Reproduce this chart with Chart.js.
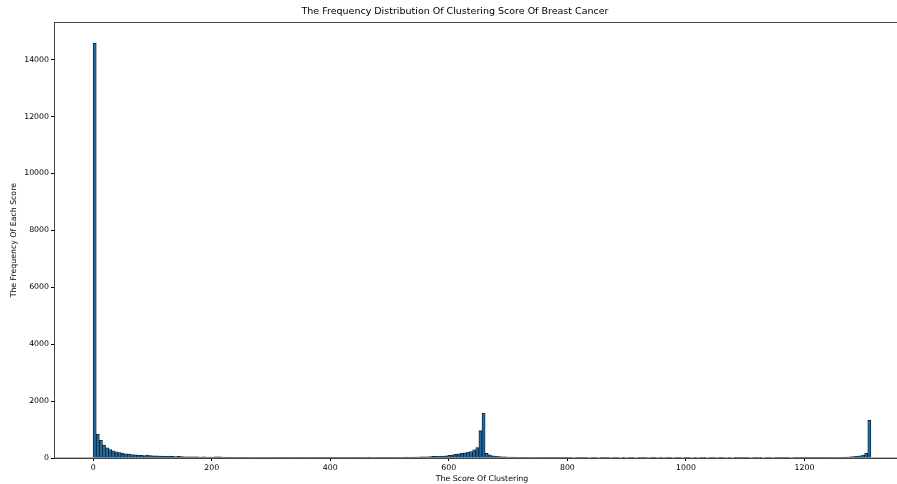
<!DOCTYPE html>
<html>
<head>
<meta charset="utf-8">
<title>Clustering Score Histogram</title>
<script src="https://cdn.jsdelivr.net/npm/chart.js@4.4.1/dist/chart.umd.min.js"></script>
<style>
  html, body { margin: 0; padding: 0; background: #fff; overflow: hidden; }
  #wrap { position: relative; width: 914px; height: 484px; }
</style>
</head>
<body>
<div id="wrap"><canvas id="myChart"></canvas></div>
<script>
// histogram: 250 bins from score 0 to ~1312
const binStart = 0;
const binWidth = 5.248;
const counts = [
    14580, 830, 620, 450, 360, 300, 255, 220, 190, 165,
    150, 135, 120, 110, 100, 95, 85, 100, 85, 80,
    75, 70, 65, 60, 65, 55, 50, 55, 50, 45,
    45, 40, 45, 40, 35, 40, 35, 30, 35, 40,
    45, 30, 25, 30, 25, 20, 25, 20, 25, 20,
    20, 15, 20, 15, 20, 15, 15, 20, 15, 15,
    10, 15, 10, 15, 10, 15, 10, 10, 15, 10,
    10, 15, 10, 10, 15, 10, 15, 10, 15, 10,
    15, 10, 15, 10, 15, 15, 15, 25, 30, 20,
    15, 10, 5, 10, 20, 25, 20, 25, 20, 25,
    30, 25, 30, 30, 35, 40, 45, 40, 50, 55,
    60, 65, 70, 80, 95, 110, 130, 150, 165, 180,
    210, 230, 290, 370, 960, 1570, 160, 110, 75, 60,
    50, 45, 40, 35, 30, 30, 25, 25, 20, 20,
    20, 15, 20, 15, 10, 15, 10, 10, 15, 10,
    10, 5, 10, 5, 0, 5, 5, 10, 5, 0,
    5, 5, 0, 5, 10, 5, 0, 5, 5, 0,
    5, 0, 5, 5, 0, 5, 10, 5, 0, 5,
    5, 0, 5, 0, 5, 5, 0, 5, 5, 0,
    5, 5, 0, 5, 0, 5, 5, 0, 5, 5,
    0, 5, 5, 0, 5, 0, 5, 5, 10, 5,
    5, 0, 5, 10, 5, 0, 5, 5, 0, 5,
    5, 10, 5, 5, 0, 5, 10, 5, 5, 10,
    5, 10, 10, 5, 10, 15, 15, 20, 20, 20,
    25, 30, 35, 40, 50, 60, 80, 105, 165, 1330
];
const xTicks = [0, 200, 400, 600, 800, 1000, 1200];
const yTicks = [0, 2000, 4000, 6000, 8000, 10000, 12000, 14000];

const points = counts.map((c, i) => ({ x: binStart + (i + 0.5) * binWidth, y: c }));

const frame = {
    id: 'frame',
    afterDraw(chart) {
        const a = chart.chartArea;
        const ctx = chart.ctx;
        ctx.save();
        ctx.strokeStyle = '#444';
        ctx.lineWidth = 1;
        ctx.strokeRect(Math.round(a.left) + 0.5, Math.round(a.top) + 0.5, a.right - a.left, a.bottom - a.top);
        ctx.restore();
    }
};

const tickFont = { family: 'DejaVu Sans', size: 7.8 };

new Chart(document.getElementById('myChart'), {
    type: 'bar',
    data: {
        datasets: [{
            data: points,
            backgroundColor: '#1f6aa0',
            borderColor: '#0b1a26',
            borderWidth: 0.8,
            barPercentage: 1.0,
            categoryPercentage: 1.0
        }]
    },
    options: {
        responsive: true,
        maintainAspectRatio: false,
        animation: false,
        layout: { padding: { left: 0, right: 4, top: 0, bottom: 0 } },
        plugins: {
            legend: { display: false },
            tooltip: { enabled: false },
            title: {
                display: true,
                text: 'The Frequency Distribution Of Clustering Score Of Breast Cancer',
                color: '#000',
                font: { family: 'DejaVu Sans', size: 9.5, weight: 'normal' },
                padding: { top: 6, bottom: 5 }
            }
        },
        scales: {
            x: {
                type: 'linear',
                min: -66,
                max: 1378,
                offset: false,
                afterFit: (scale) => { scale.height = 26; },
                afterBuildTicks: (scale) => { scale.ticks = xTicks.map(v => ({ value: v })); },
                ticks: {
                    color: '#000', font: tickFont, padding: 2, maxRotation: 0, autoSkip: false,
                    callback: (v) => String(v)
                },
                grid: { offset: false, drawOnChartArea: false, drawTicks: true, tickLength: 3, color: '#000' },
                border: { display: true, color: '#444', width: 1 },
                title: {
                    display: true,
                    text: 'The Score Of Clustering',
                    color: '#000',
                    font: tickFont,
                    padding: { top: 0, bottom: 0 }
                }
            },
            y: {
                min: 0,
                max: 15309,
                afterFit: (scale) => { scale.width = 54; },
                afterBuildTicks: (scale) => { scale.ticks = yTicks.map(v => ({ value: v })); },
                ticks: {
                    color: '#000', font: tickFont, padding: 2, autoSkip: false,
                    callback: (v) => String(v)
                },
                grid: { drawOnChartArea: false, drawTicks: true, tickLength: 3, color: '#000' },
                border: { display: true, color: '#444', width: 1 },
                title: {
                    display: true,
                    text: 'The Frequency Of Each Score',
                    color: '#000',
                    font: tickFont,
                    padding: { top: 9, bottom: 0 }
                }
            }
        }
    },
    plugins: [frame]
});
</script>
</body>
</html>
